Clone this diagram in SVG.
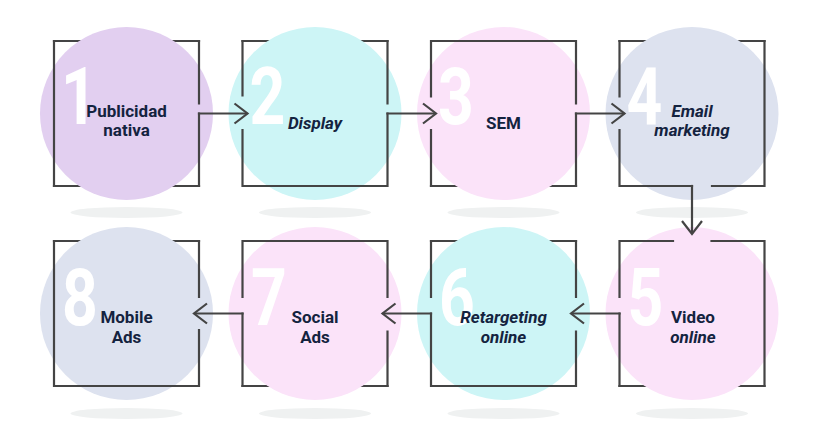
<svg xmlns="http://www.w3.org/2000/svg" width="820" height="447" viewBox="0 0 820 447">
<defs>
<style>
.f{fill:none;stroke:#444;stroke-width:2.2;stroke-linecap:square}
.c{fill:none;stroke:#444;stroke-width:2.2}
.num{font-family:Roboto,"Liberation Sans",sans-serif;font-weight:700;font-size:80px;fill:#fff;text-anchor:middle}
.lbl{font-family:Roboto,"Liberation Sans",sans-serif;font-weight:700;font-size:17px;fill:#14233f;text-anchor:middle}
.it{font-style:italic}
.sh{fill:#eff1f1}
.lav{fill:#e2cff0}
.cya{fill:#cdf5f6}
.pnk{fill:#fbe3f9}
.gbl{fill:#dde2ef}
</style>
<marker id="ah" markerUnits="userSpaceOnUse" viewBox="-16 -13 19 26" markerWidth="19" markerHeight="26" refX="0" refY="0" orient="auto">
<path d="M-13,-10 L0,0 L-13,10" fill="none" stroke="#444" stroke-width="2.2"/>
</marker>
</defs>
<rect width="820" height="447" fill="#fff"/>
<g id="shadows">
<ellipse class="sh" cx="126.5" cy="212.5" rx="56" ry="5.5"/>
<ellipse class="sh" cx="315" cy="212.5" rx="56" ry="5.5"/>
<ellipse class="sh" cx="503.5" cy="212.5" rx="56" ry="5.5"/>
<ellipse class="sh" cx="692" cy="212.5" rx="56" ry="5.5"/>
<ellipse class="sh" cx="126.5" cy="413.5" rx="56" ry="5.5"/>
<ellipse class="sh" cx="315" cy="413.5" rx="56" ry="5.5"/>
<ellipse class="sh" cx="503.5" cy="413.5" rx="56" ry="5.5"/>
<ellipse class="sh" cx="692" cy="413.5" rx="56" ry="5.5"/>
</g>
<g id="node1">
<path class="f" d="M54,41 H199 M54,186 H199"/>
<circle class="lav" cx="126.5" cy="113.5" r="86.5"/>
<path class="f" d="M54,41 V186 M199,41 V103.5 M199,186 V113.5"/>
<text class="num" transform="translate(79,124) scale(0.78,1)">1</text>
<text class="lbl" x="126.5" y="116.5">Publicidad</text>
<text class="lbl" x="126.5" y="135.5">nativa</text>
</g>
<g id="node2">
<path class="f" d="M242.5,41 H387.5"/>
<circle class="cya" cx="315" cy="113.5" r="86.5"/>
<path class="f" d="M242.5,186 H387.5 M242.5,41 V95.5 M242.5,130 V186 M387.5,41 V103.5 M387.5,186 V113.5"/>
<text class="num" transform="translate(267.5,124) scale(0.78,1)">2</text>
<text class="lbl it" x="315" y="128.5">Display</text>
</g>
<g id="node3">
<path class="f" d="M431,186 H576"/>
<circle class="pnk" cx="503.5" cy="113.5" r="86.5"/>
<path class="f" d="M431,41 H576 M431,41 V96.5 M431,130 V186 M576,41 V103.5 M576,186 V113.5"/>
<text class="num" transform="translate(456,124) scale(0.78,1)">3</text>
<text class="lbl" x="503.5" y="129">SEM</text>
</g>
<g id="node4">
<path class="f" d="M619.5,41 H764.5"/>
<circle class="gbl" cx="692" cy="113.5" r="86.5"/>
<path class="f" d="M619.5,41 V96.5 M619.5,130 V186 M764.5,41 V186 M619.5,186 H692 M712,186 H764.5"/>
<text class="num" transform="translate(644.5,124) scale(0.78,1)">4</text>
<text class="lbl it" x="692" y="116.5">Email</text>
<text class="lbl it" x="692" y="135.5">marketing</text>
</g>
<g id="node5">
<path class="f" d="M619.5,386 H764.5"/>
<circle class="pnk" cx="692" cy="313.5" r="86.5"/>
<path class="f" d="M619.5,241 H673 M711.5,241 H764.5 M764.5,241 V386 M619.5,241 V297 M619.5,386 V313.5"/>
<text class="num" transform="translate(645.5,325) scale(0.78,1)">5</text>
<text class="lbl" x="693" y="323">Video</text>
<text class="lbl it" x="693" y="343">online</text>
</g>
<g id="node6">
<path class="f" d="M431,241 H576"/>
<circle class="cya" cx="503.5" cy="313.5" r="86.5"/>
<path class="f" d="M431,386 H576 M576,241 V297 M576,331.5 V386 M431,241 V297 M431,386 V313.5"/>
<text class="num" transform="translate(457,325) scale(0.78,1)">6</text>
<text class="lbl it" x="503.5" y="323">Retargeting</text>
<text class="lbl it" x="503.5" y="343">online</text>
</g>
<g id="node7">
<path class="f" d="M242.5,386 H387.5"/>
<circle class="pnk" cx="315" cy="313.5" r="86.5"/>
<path class="f" d="M242.5,241 H387.5 M387.5,241 V297 M387.5,331.5 V386 M242.5,241 V297 M242.5,386 V313.5"/>
<text class="num" transform="translate(269,325) scale(0.78,1)">7</text>
<text class="lbl" x="315" y="323">Social</text>
<text class="lbl" x="315" y="343">Ads</text>
</g>
<g id="node8">
<path class="f" d="M54,241 H199"/>
<circle class="gbl" cx="126.5" cy="313.5" r="86.5"/>
<path class="f" d="M54,386 H199 M199,241 V297 M199,330 V386 M54,241 V386"/>
<text class="num" transform="translate(80,325) scale(0.78,1)">8</text>
<text class="lbl" x="126.5" y="323">Mobile</text>
<text class="lbl" x="126.5" y="343">Ads</text>
</g>
<g id="connectors">
<path class="c" d="M197.9,113.5 H247.5" marker-end="url(#ah)"/>
<path class="c" d="M386.4,113.5 H436" marker-end="url(#ah)"/>
<path class="c" d="M574.9,113.5 H624.5" marker-end="url(#ah)"/>
<path class="c" d="M692,184.9 V234" marker-end="url(#ah)"/>
<path class="c" d="M620.6,313.5 H571" marker-end="url(#ah)"/>
<path class="c" d="M432.1,313.5 H382.5" marker-end="url(#ah)"/>
<path class="c" d="M243.6,313.5 H194" marker-end="url(#ah)"/>
</g>
</svg>
